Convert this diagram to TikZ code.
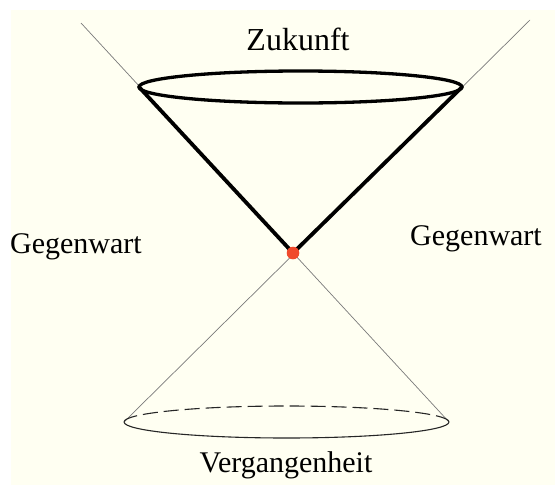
\documentclass[tikz,border=0pt]{standalone}
\usepackage{fontspec}
\setmainfont{Liberation Serif}
\definecolor{bgcream}{HTML}{FFFFF2}
\definecolor{conered}{HTML}{F04A2C}
\definecolor{thingray}{HTML}{7A7A7A}
\begin{document}
\begin{tikzpicture}[x=1pt,y=-1pt,
  lbl/.style={font=\fontsize{30}{34}\selectfont, inner sep=0pt},
  axisline/.style={draw=thingray, line width=0.7pt},
  thickcone/.style={draw=black, line width=3.8pt, line cap=round, line join=round},
  thinell/.style={draw=black!85, line width=1.1pt},
  dashell/.style={draw=black!85, line width=1.1pt, dash pattern=on 15pt off 6pt}]
\useasboundingbox (0,0) rectangle (555,485);
\fill[white] (0,0) rectangle (555,485);
\fill[bgcream] (11,10) rectangle (555,485);
% light cone axes
\coordinate (ul) at (81,23);
\coordinate (ur) at (530,20);
\coordinate (ll) at (124,422);
\coordinate (lr) at (449,422);
\coordinate (apex) at (293,253);
\coordinate (tl) at (139,87);
\coordinate (tr) at (462,87);
\draw[axisline] (ul) -- (lr);
\draw[axisline] (ur) -- (ll);
% past cone base
\draw[dashell] (ll) arc[start angle=180, end angle=360, x radius=162.5, y radius=16];
\draw[thinell] (ll) arc[start angle=180, end angle=0, x radius=162.5, y radius=16];
% future cone
\draw[thickcone] (tl) -- (apex) -- (tr);
\draw[black, line width=3.3pt] (300.5,87) ellipse[x radius=161.5, y radius=16];
\fill[conered] (apex) circle (6.3);
% labels
\node[lbl, font=\fontsize{32}{36}\selectfont] (zuk) at (298,39) {Zukunft};
\node[lbl] (gl) at (76,247) {Gegenwart};
\node[lbl] (gr) at (476,239) {Gegenwart};
\node[lbl] (verg) at (286,465) {Vergangenheit};
\end{tikzpicture}
\end{document}
